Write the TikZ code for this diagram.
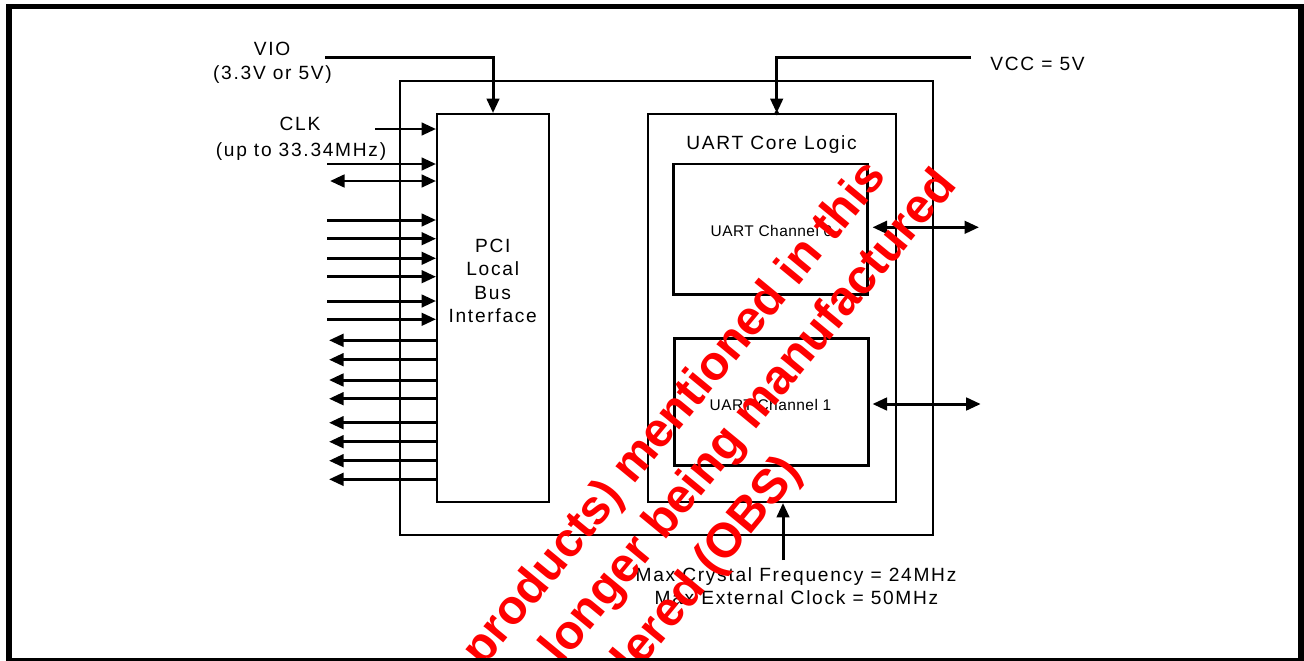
\documentclass[tikz,border=0pt]{standalone}
\usepackage{fontspec}
\setmainfont{Liberation Sans}
\newfontfamily\lblfont[LetterSpace=9]{Liberation Sans}
\newfontfamily\chfont[LetterSpace=3]{Liberation Sans}
\usetikzlibrary{arrows.meta,fit,calc}
\begin{document}
\begin{tikzpicture}[x=0.02cm,y=-0.02cm,
  thinbox/.style={draw,line width=1.1pt,inner sep=0pt},
  thickbox/.style={draw,line width=1.7pt,inner sep=0pt},
  wire/.style={line width=1.7pt},
  arr/.style={wire,-{Triangle[length=0.29cm,width=0.25cm]}},
  larr/.style={wire,{Triangle[length=0.29cm,width=0.25cm]}-},
  darr/.style={wire,{Triangle[length=0.29cm,width=0.25cm]}-{Triangle[length=0.29cm,width=0.25cm]}},
  lbl/.style={font=\lblfont\fontsize{10.9}{13}\selectfont,inner sep=0pt,anchor=base},
  chl/.style={font=\chfont\fontsize{8.8}{11}\selectfont,inner sep=0pt,anchor=base},
  wm/.style={font=\fontsize{27.5}{33}\selectfont\bfseries,text=red,inner sep=0pt,anchor=base east,rotate=50.5}]
\useasboundingbox (0,0) rectangle (1304,660);
% frame
\draw[line width=3.4pt] (9,6.5) rectangle (1301,661);
% boxes
\node[thinbox,fit={(400,81) (933,535)}] (chip) {};
\node[thinbox,fit={(437,114) (549,502)}] (pci) {};
\node[thinbox,fit={(648,114) (896,502)}] (core) {};
\node[thickbox,fit={(673,164) (867,294)}] (ch0) {};
\node[thickbox,fit={(674,338) (868,465)}] (ch1) {};
% labels
\node[lbl] (tvio) at (272,55) {VIO};
\node[lbl] (tvio2) at (272.5,79) {(3.3V or 5V)};
\node[lbl] (tclk) at (300,130) {CLK};
\node[lbl] (tclk2) at (301,156) {(up to 33.34MHz)};
\node[lbl,anchor=base west] (tvcc) at (990,70) {VCC = 5V};
\node[lbl] (tcore) at (771.5,149) {UART Core Logic};
\node[chl] (tch0) at (771.5,236.7) {UART Channel 0};
\node[chl] (tch1) at (770.5,410) {UART Channel 1};
\node[lbl] (tp1) at (492.7,252.3) {PCI};
\node[lbl] (tp2) at (492.7,275) {Local};
\node[lbl] (tp3) at (492.7,299) {Bus};
\node[lbl] (tp4) at (492.7,322.3) {Interface};
\node[lbl] (tx1) at (796,581) {Max Crystal Frequency = 24MHz};
\node[lbl] (tx2) at (796.5,604) {Max External Clock = 50MHz};
% power
\coordinate (vio) at (325,57.7);
\coordinate (vcc) at (971,57.7);
\draw[arr] (vio) -| (pci.north);
\draw[arr] (vcc) -| ($(core.north)+(4.7,0)$);
\fill ($(core.north)+(4.7,0)$ |- vcc) circle (2.2);
% clock
\coordinate (clk) at (375,129);
\draw[arr] (clk) -- (pci.west |- clk);
% PCI bus signals
\foreach \yy [count=\i] in {164,220,238.7,258.3,276.7,301,319.3}{
  \coordinate (in\i) at (327,\yy);
  \draw[arr] (in\i) -- (pci.west |- in\i);
}
\coordinate (bi) at (330,181);
\draw[darr] (bi) -- (pci.west |- bi);
\foreach \yy [count=\i] in {340.3,359.7,380,398.7,422.7,441.7,460.7,479.3}{
  \coordinate (out\i) at (329,\yy);
  \draw[larr] (out\i) -- (pci.west |- out\i);
}
% serial ports
\coordinate (r0) at (979,227.3);
\coordinate (r1) at (980.7,404);
\draw[darr] ($(ch0.east |- r0)+(4,0)$) -- (r0);
\draw[darr] ($(ch1.east |- r1)+(3,0)$) -- (r1);
% crystal
\coordinate (xtal) at (783,560);
\draw[arr] (xtal) -- ($(core.south)+(11,0)$);
% watermark
\begin{scope}
\clip (12,9.5) rectangle (1298,657.5);
\node[wm] (wm1) at (888,177) {products) mentioned in this};
\node[wm] (wm2) at (958,185) {longer being manufactured};
\node[wm] (wm3) at (803,472) {dered (OBS)};
\end{scope}
\end{tikzpicture}
\end{document}
